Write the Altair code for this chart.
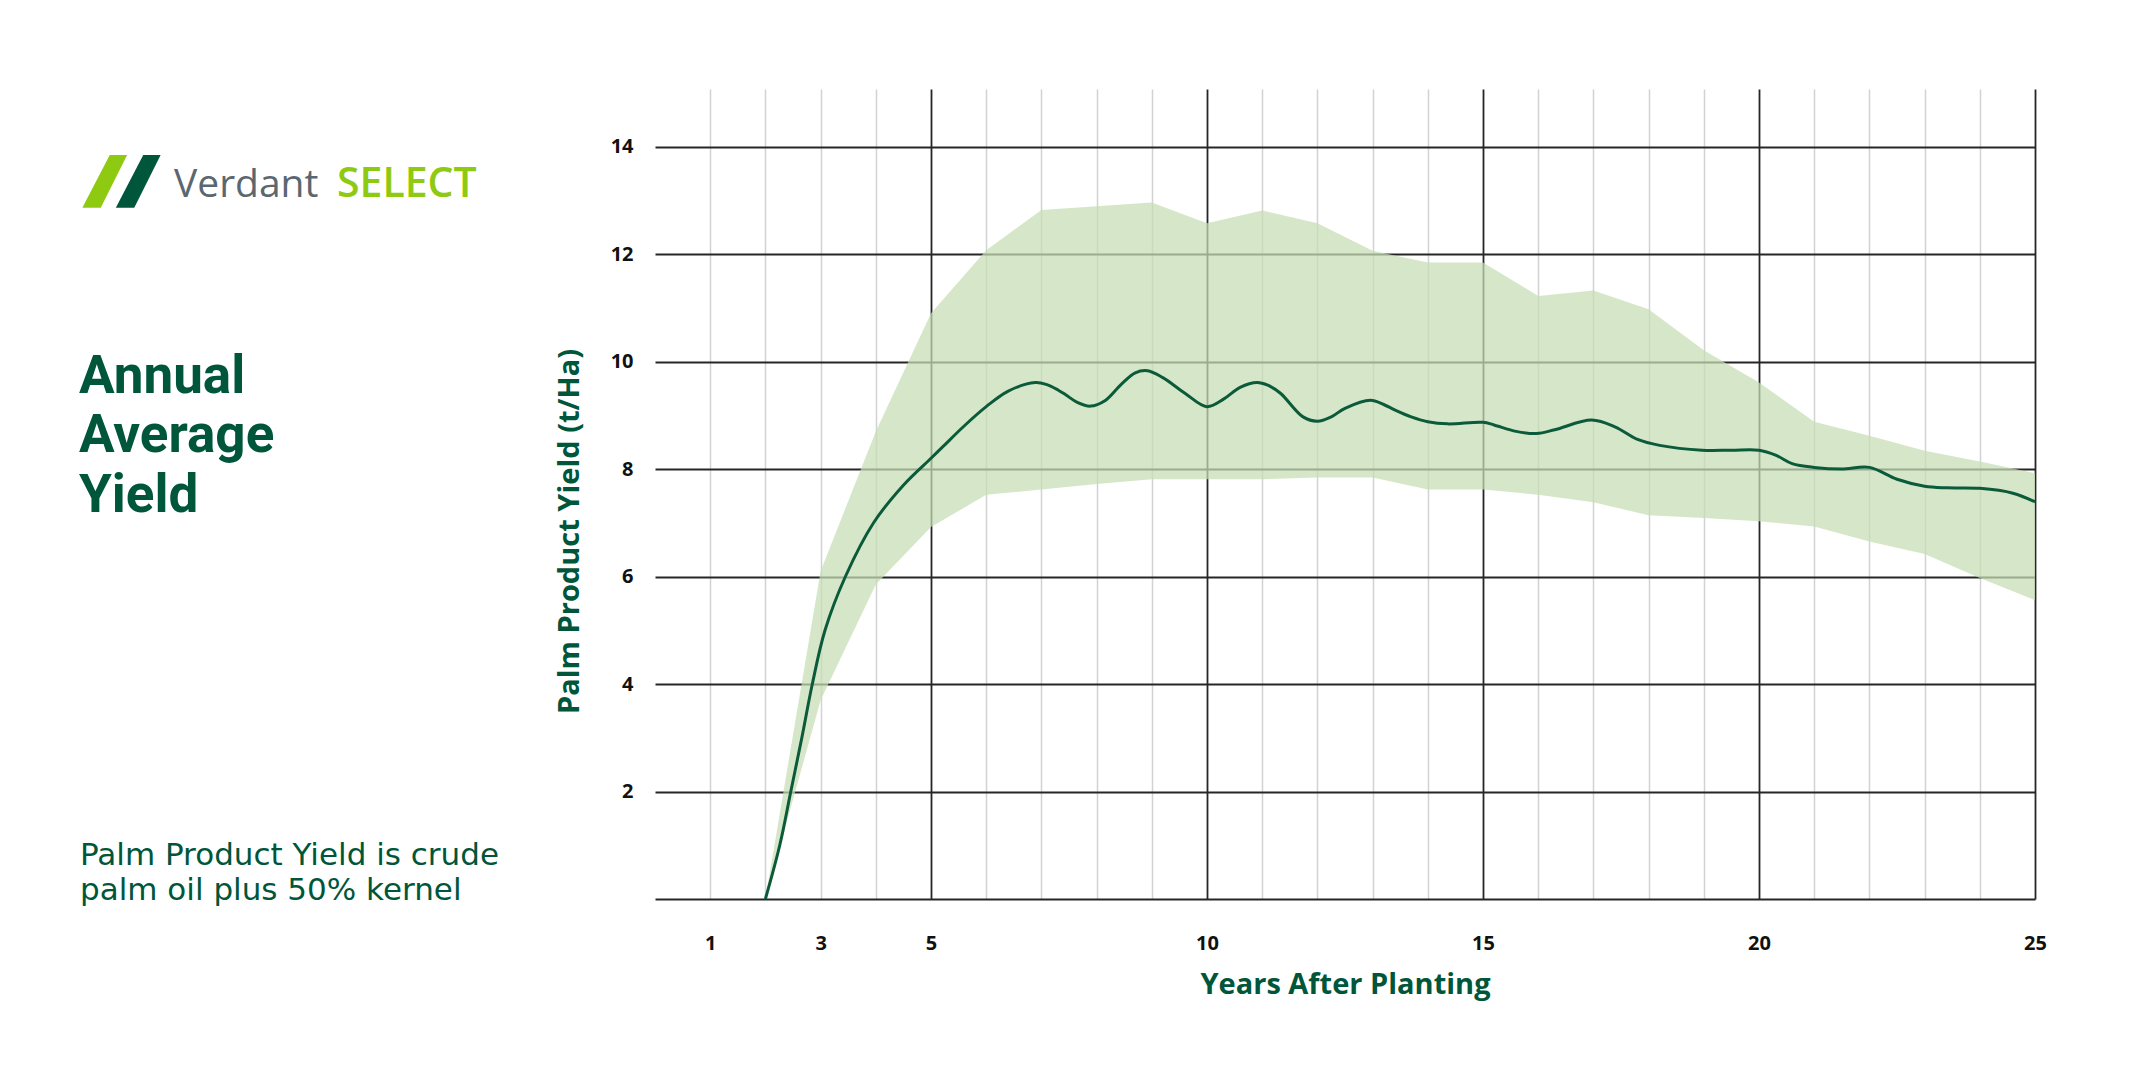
import altair as alt
import pandas as pd

# Yield envelope (t/Ha) by year after planting
band_years = list(range(2, 26))
band_low = [0, 3.7, 5.85, 6.92, 7.52, 7.62, 7.72, 7.81, 7.81, 7.81, 7.84, 7.84,
            7.62, 7.62, 7.52, 7.38, 7.14, 7.09, 7.03, 6.93, 6.65, 6.42, 5.97, 5.56]
band_high = [0, 6.1, 8.7, 10.9, 12.07, 12.82, 12.89, 12.96, 12.57, 12.81, 12.57, 12.06,
             11.84, 11.84, 11.22, 11.32, 10.97, 10.21, 9.61, 8.88, 8.62, 8.34, 8.14, 7.92]

# Annual average yield curve (t/Ha)
avg_years = [2.0, 2.26, 2.46, 2.66, 2.85, 3.08, 3.45, 3.96, 4.5, 5.0, 5.22,
             5.6, 6.0, 6.4, 6.89, 7.1, 7.3, 7.44, 7.65, 7.89, 8.15, 8.45, 8.7, 8.92, 9.2,
             9.6, 10.0, 10.3, 10.6, 10.91, 11.1, 11.33, 11.74, 12.0, 12.25, 12.5, 12.96,
             13.2, 13.4, 13.7, 14.0, 14.36, 15.0, 15.2, 15.6, 15.97, 16.3, 16.97, 17.4,
             17.8, 18.2, 18.97, 19.5, 20.0, 20.3, 20.6, 21.0, 21.5, 22.0, 22.5, 23.0,
             23.4, 24.0, 24.6, 25.0]
avg_yield = [0, 1.0, 2.0, 3.0, 4.0, 5.0, 6.0, 7.0, 7.7, 8.2, 8.42,
             8.8, 9.16, 9.45, 9.61, 9.57, 9.47, 9.38, 9.24, 9.17, 9.27, 9.58, 9.79, 9.83, 9.7,
             9.41, 9.16, 9.3, 9.52, 9.61, 9.56, 9.41, 8.97, 8.89, 8.97, 9.13, 9.28,
             9.2, 9.1, 8.97, 8.88, 8.84, 8.87, 8.82, 8.7, 8.66, 8.73, 8.91, 8.78,
             8.55, 8.44, 8.35, 8.35, 8.35, 8.26, 8.1, 8.03, 8.0, 8.03, 7.81, 7.68,
             7.65, 7.64, 7.55, 7.39]

x_ticks = list(range(1, 26))
y_ticks = list(range(0, 15, 2))

title_lines = ["Annual", "Average", "Yield"]
note_lines = ["Palm Product Yield is crude", "palm oil plus 50% kernel"]

DARK_GREEN = "#00563a"
LIME = "#8fca12"
GREY_TEXT = "#5b6770"
AXIS_FONT = "Open Sans"

band_df = pd.DataFrame({"year": band_years, "low": band_low, "high": band_high})
avg_df = pd.DataFrame({"year": avg_years, "yield": avg_yield})

x_scale = alt.Scale(domain=[0, 25], nice=False, zero=False)
y_scale = alt.Scale(domain=[0, 15.07], nice=False)

x_axis = alt.Axis(
    values=x_ticks,
    labelExpr="datum.value < 5 ? (datum.value % 2 == 1 ? datum.label : '') : (datum.value % 5 == 0 ? datum.label : '')",
    domain=False, ticks=False, tickSize=0, labelFlush=False, labelOverlap=False,
    labelPadding=34, labelFont=AXIS_FONT, labelFontSize=20, labelFontWeight=700,
    labelColor="#111111", labelAngle=0,
    gridColor={"condition": {"test": "datum.value % 5 === 0", "value": "#262626"}, "value": "#d2d2d2"},
    gridWidth={"condition": {"test": "datum.value % 5 === 0", "value": 1.8}, "value": 1.5},
    title="Years After Planting", titleFont=AXIS_FONT, titleFontSize=29,
    titleFontWeight=700, titleColor=DARK_GREEN, titleBaseline="alphabetic",
    titleX=690, titleY=94, titleAlign="center",
)

y_axis = alt.Axis(
    values=y_ticks,
    labelExpr="datum.value == 0 ? '' : datum.label",
    domain=False, ticks=False, tickSize=0, labelFlush=False, labelOverlap=False,
    labelPadding=22, labelFont=AXIS_FONT, labelFontSize=20, labelFontWeight=700,
    labelColor="#111111",
    gridColor="#262626", gridWidth=1.8,
    title="Palm Product Yield (t/Ha)", titleFont=AXIS_FONT, titleFontSize=29,
    titleFontWeight=700, titleColor=DARK_GREEN, titleAngle=270,
    titleBaseline="alphabetic", titleAlign="center", titleX=-77, titleY=442,
)

band = alt.Chart(band_df).mark_area(color="#c5deb4", opacity=0.73).encode(
    x=alt.X("year:Q", scale=x_scale, axis=x_axis),
    y=alt.Y("low:Q", scale=y_scale, axis=y_axis),
    y2="high:Q",
)

line = alt.Chart(avg_df).mark_line(
    color="#0b5a3a", strokeWidth=3, interpolate="catmull-rom"
).encode(x="year:Q", y="yield:Q")

one = alt.Data(values=[{"k": 0}])

# Brand mark: two slanted bars
bar_path = "M0.18,-1 L0.84,-1 L-0.16,1 L-0.86,1 Z"
logo_light = alt.Chart(one).mark_point(
    shape=bar_path, filled=True, size=2777, color=LIME, opacity=1, strokeWidth=0
).encode(x=alt.value(-550), y=alt.value(92.4))
logo_dark = alt.Chart(one).mark_point(
    shape=bar_path, filled=True, size=2777, color=DARK_GREEN, opacity=1, strokeWidth=0
).encode(x=alt.value(-516.5), y=alt.value(92.4))

brand_a = alt.Chart(one).mark_text(
    align="left", baseline="alphabetic", font="Open Sans", fontSize=39,
    fontWeight=400, color=GREY_TEXT
).encode(x=alt.value(-481), y=alt.value(107.7), text=alt.value("Verdant"))
brand_b = alt.Chart(one).mark_text(
    align="left", baseline="alphabetic", font="Open Sans", fontSize=41,
    fontWeight=600, color=LIME
).encode(x=alt.value(-318), y=alt.value(107.7), text=alt.value("SELECT"))

heading = alt.Chart(one).mark_text(
    align="left", baseline="alphabetic", font="Roboto", fontSize=53,
    fontWeight=700, color=DARK_GREEN, lineHeight=59.5
).encode(x=alt.value(-576), y=alt.value(303.7), text=alt.value(title_lines))

note = alt.Chart(one).mark_text(
    align="left", baseline="alphabetic", font="DejaVu Sans", fontSize=31,
    fontWeight=400, color=DARK_GREEN, lineHeight=35
).encode(x=alt.value(-575), y=alt.value(776), text=alt.value(note_lines))

chart = alt.layer(
    band, line, logo_light, logo_dark, brand_a, brand_b, heading, note
).properties(
    width=1380, height=810,
    padding={"left": 655, "top": 89, "right": 119, "bottom": 190},
    autosize=alt.AutoSizeParams(type="none"),
    background="white",
).configure_view(stroke=None)

chart.save("out.html", embed_options={"renderer": "svg", "actions": False})
